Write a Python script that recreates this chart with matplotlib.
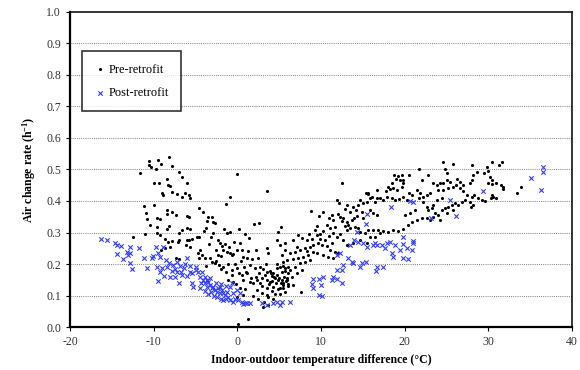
import matplotlib
matplotlib.use('Agg')
import matplotlib.pyplot as plt
import numpy as np

plt.rcParams['font.family'] = ['Liberation Serif', 'DejaVu Serif']
plt.rcParams['mathtext.default'] = 'regular'
plt.rcParams['axes.unicode_minus'] = False

# pre-retrofit points (temp. difference in C, air change rate in 1/h), read strip by strip
pre_left = [
    (-10.52, 0.528), (-10.56, 0.514), (-10.32, 0.509), (-9.76, 0.501), (-9.44, 0.530), (-9.16, 0.517),
    (-8.13, 0.541), (-7.85, 0.511), (-11.67, 0.488), (-6.93, 0.491), (-6.57, 0.475), (-6.06, 0.458),
    (-9.96, 0.458), (-9.36, 0.458), (-8.45, 0.469), (-8.29, 0.451), (-8.05, 0.449), (-9.04, 0.426),
    (-8.92, 0.419), (-7.85, 0.430), (-7.17, 0.421), (-6.65, 0.414), (-6.26, 0.424), (-5.66, 0.409),
    (-5.78, 0.419), (-9.92, 0.387), (-11.16, 0.384), (-10.92, 0.363), (-8.45, 0.372), (-7.77, 0.366),
    (-8.37, 0.359), (-7.33, 0.356), (-10.76, 0.344), (-9.56, 0.347), (-9.24, 0.342), (-6.06, 0.352),
    (-5.74, 0.350), (-10.44, 0.324), (-9.64, 0.316), (-8.45, 0.310), (-8.17, 0.321), (-6.93, 0.299),
    (-6.61, 0.308), (-5.98, 0.315), (-5.66, 0.310), (-12.51, 0.287), (-11.00, 0.294), (-9.64, 0.297),
    (-9.24, 0.292), (-8.61, 0.279), (-8.33, 0.269), (-7.85, 0.273), (-7.13, 0.270), (-7.01, 0.276),
    (-6.06, 0.276), (-5.78, 0.276), (-5.46, 0.280), (-4.86, 0.287), (-5.66, 0.255), (-6.14, 0.260),
    (-8.05, 0.253), (-8.65, 0.250), (-9.16, 0.244), (-7.33, 0.218), (-6.93, 0.216), (-4.66, 0.234),
    (-4.58, 0.218),
]
pre_mid = [
    (0.00, 0.485), (3.58, 0.432), (-0.88, 0.414), (-1.36, 0.391), (-4.54, 0.377), (-4.06, 0.366),
    (-3.47, 0.350), (-3.07, 0.348), (-2.87, 0.334), (-3.67, 0.338), (-2.67, 0.329), (1.99, 0.326),
    (2.63, 0.331), (-4.00, 0.306), (-1.55, 0.310), (-1.28, 0.299), (-0.88, 0.303), (0.24, 0.310),
    (0.92, 0.295), (1.43, 0.281), (5.18, 0.316), (4.90, 0.303), (-4.54, 0.287), (-3.19, 0.287),
    (-2.27, 0.276), (-2.07, 0.266), (-1.87, 0.257), (-1.67, 0.244), (-1.28, 0.239), (-0.88, 0.234),
    (-0.48, 0.232), (-0.68, 0.229), (-0.08, 0.244), (0.32, 0.266), (3.58, 0.250), (3.70, 0.236),
    (4.78, 0.276), (5.10, 0.260), (5.70, 0.268), (0.72, 0.223), (1.11, 0.218), (1.71, 0.215),
    (2.51, 0.218), (-4.46, 0.244), (-3.87, 0.218), (-3.07, 0.207), (-2.67, 0.202), (-2.15, 0.197),
    (-1.67, 0.192), (-1.08, 0.200), (-0.68, 0.181), (-0.08, 0.186), (0.24, 0.170), (0.52, 0.165),
    (1.04, 0.176), (1.51, 0.197), (2.11, 0.186), (2.71, 0.192), (3.11, 0.183), (3.50, 0.176),
    (3.90, 0.179), (4.30, 0.172), (4.70, 0.186), (5.30, 0.176), (5.70, 0.179), (6.09, 0.192),
    (4.10, 0.162), (4.50, 0.155), (4.90, 0.149), (3.90, 0.144), (4.30, 0.128), (3.50, 0.123),
    (1.51, 0.144), (1.91, 0.139), (2.31, 0.149), (2.71, 0.139), (0.72, 0.149), (-0.48, 0.144),
    (-1.08, 0.149), (0.32, 0.123), (2.31, 0.117), (2.91, 0.107), (3.50, 0.102), (5.10, 0.123),
    (5.50, 0.139), (5.90, 0.149), (3.11, 0.065), (3.70, 0.070), (1.31, 0.024), (0.04, 0.008),
    (0.72, 0.102), (-0.08, 0.096),
    # the dense knot around 2-6 C
    (2.2, 0.160), (2.6, 0.170), (3.0, 0.155), (3.3, 0.165), (3.6, 0.150), (3.8, 0.135), (4.0, 0.170),
    (4.2, 0.145), (4.4, 0.160), (4.6, 0.140), (4.8, 0.165), (5.0, 0.155), (5.2, 0.140), (5.4, 0.125),
    (5.6, 0.160), (5.8, 0.145), (4.1, 0.115), (4.5, 0.105), (4.9, 0.120), (3.7, 0.095), (4.3, 0.090),
    (5.1, 0.105), (2.9, 0.130), (3.4, 0.200), (4.7, 0.200), (5.5, 0.195), (6.0, 0.170), (1.2, 0.170),
    (1.6, 0.155), (0.8, 0.190), (0.4, 0.210), (-0.3, 0.200), (-0.6, 0.165), (-1.3, 0.175), (-2.0, 0.185),
    (-2.5, 0.210), (-3.3, 0.220), (-3.8, 0.195), (-4.2, 0.230), (-0.2, 0.135), (0.9, 0.120), (1.9, 0.100),
    (2.5, 0.090), (3.2, 0.080), (5.7, 0.110), (6.1, 0.130),
    (-3.4, 0.265), (-2.6, 0.245), (-2.3, 0.230), (-1.5, 0.265), (-1.0, 0.255), (-0.4, 0.270),
    (-2.9, 0.300), (-3.8, 0.315), (-1.9, 0.225), (0.6, 0.245), (1.3, 0.240), (2.2, 0.245),
]
pre_rise = [
    (12.47, 0.458), (8.80, 0.368), (9.80, 0.352), (10.20, 0.366), (11.87, 0.403), (12.19, 0.393),
    (12.87, 0.374), (13.07, 0.387), (13.47, 0.366), (13.86, 0.380), (14.46, 0.387), (14.66, 0.403),
    (15.06, 0.393), (15.38, 0.426), (15.66, 0.422), (15.86, 0.408), (15.54, 0.398), (16.06, 0.414),
    (16.45, 0.398), (16.65, 0.408), (14.86, 0.366), (14.26, 0.352), (15.06, 0.345), (15.86, 0.371),
    (16.25, 0.363), (16.65, 0.355), (11.27, 0.356), (11.47, 0.340), (12.27, 0.348), (12.47, 0.338),
    (12.67, 0.345), (13.07, 0.334), (13.27, 0.324), (13.66, 0.340), (13.07, 0.308), (13.47, 0.313),
    (14.06, 0.319), (14.46, 0.313), (14.66, 0.303), (15.26, 0.297), (15.66, 0.308), (15.86, 0.287),
    (16.25, 0.308), (6.69, 0.276), (7.29, 0.292), (7.69, 0.281), (8.29, 0.276), (8.60, 0.295),
    (9.28, 0.308), (9.48, 0.292), (9.88, 0.295), (10.28, 0.306), (10.68, 0.324), (11.08, 0.313),
    (11.47, 0.297), (11.87, 0.287), (12.27, 0.295), (12.67, 0.276), (10.48, 0.276), (9.68, 0.266),
    (10.08, 0.260), (10.68, 0.257), (11.27, 0.266), (9.08, 0.260), (8.68, 0.255), (8.09, 0.250),
    (7.49, 0.244), (6.89, 0.239), (6.29, 0.234), (5.70, 0.244), (5.30, 0.229), (9.08, 0.239),
    (9.48, 0.234), (8.49, 0.229), (7.89, 0.223), (7.29, 0.218), (6.69, 0.215), (5.90, 0.213),
    (5.50, 0.207), (5.10, 0.192), (5.70, 0.186), (6.29, 0.181), (6.89, 0.192), (7.49, 0.202),
    (8.09, 0.207), (8.68, 0.213), (7.69, 0.181), (7.09, 0.170), (6.49, 0.160), (5.90, 0.155),
    (5.30, 0.149), (5.50, 0.133), (6.09, 0.137), (6.69, 0.133), (7.57, 0.110), (11.08, 0.244),
    (11.67, 0.239), (10.28, 0.229), (10.88, 0.223), (11.47, 0.218), (12.07, 0.234), (13.07, 0.260),
    (13.78, 0.266), (14.66, 0.276), (15.46, 0.266), (16.45, 0.287), (16.85, 0.308), (15.66, 0.424),
    (16.65, 0.435),
    (8.3, 0.240), (9.9, 0.280), (10.9, 0.290), (11.7, 0.318), (12.9, 0.322), (13.9, 0.345),
    (14.2, 0.372), (12.0, 0.360), (10.9, 0.345), (8.9, 0.280), (7.1, 0.255), (9.5, 0.320),
]
pre_upper = [
    (24.54, 0.525), (25.82, 0.516), (21.75, 0.502), (18.72, 0.483), (19.24, 0.479), (19.64, 0.483),
    (18.96, 0.469), (19.44, 0.467), (19.76, 0.467), (19.84, 0.456), (19.64, 0.445), (20.56, 0.483),
    (18.44, 0.456), (18.05, 0.445), (18.25, 0.437), (18.64, 0.440), (19.04, 0.435), (17.77, 0.433),
    (17.05, 0.408), (17.45, 0.403), (17.85, 0.414), (18.44, 0.408), (18.84, 0.403), (19.36, 0.405),
    (19.84, 0.414), (20.24, 0.403), (20.56, 0.426), (20.84, 0.419), (21.43, 0.435), (21.83, 0.426),
    (21.75, 0.408), (22.23, 0.414), (22.63, 0.419), (23.03, 0.424), (22.03, 0.467), (22.83, 0.483),
    (23.43, 0.456), (23.82, 0.451), (24.22, 0.458), (24.62, 0.456), (25.02, 0.467), (25.42, 0.461),
    (26.21, 0.469), (26.61, 0.461), (27.01, 0.451), (25.82, 0.445), (25.22, 0.440), (24.62, 0.435),
    (24.02, 0.435), (25.10, 0.488), (24.82, 0.500), (26.14, 0.451), (26.61, 0.440), (27.01, 0.433),
    (27.41, 0.419), (22.23, 0.398), (22.63, 0.382), (22.83, 0.371), (23.22, 0.377), (23.62, 0.363),
    (24.02, 0.356), (24.42, 0.371), (24.82, 0.377), (25.22, 0.382), (25.62, 0.387), (26.02, 0.393),
    (26.41, 0.387), (26.81, 0.398), (27.21, 0.403), (25.82, 0.371), (25.02, 0.363), (24.22, 0.340),
    (23.43, 0.348), (23.03, 0.340), (22.63, 0.345), (22.03, 0.345), (21.43, 0.340), (20.84, 0.334),
    (20.44, 0.324), (19.84, 0.310), (19.24, 0.305), (18.64, 0.308), (18.05, 0.303), (17.45, 0.305),
    (17.05, 0.297), (21.23, 0.371), (20.64, 0.361), (20.04, 0.356), (23.43, 0.387), (23.82, 0.403),
    (24.42, 0.408),
]
pre_right = [
    (28.00, 0.514), (28.60, 0.493), (29.48, 0.488), (29.80, 0.509), (30.47, 0.523), (31.31, 0.514),
    (31.59, 0.525), (29.99, 0.496), (30.20, 0.477), (30.39, 0.467), (29.99, 0.456), (30.39, 0.454),
    (30.91, 0.458), (31.47, 0.451), (31.71, 0.443), (31.79, 0.437), (28.20, 0.483), (28.00, 0.467),
    (27.81, 0.456), (28.28, 0.419), (28.00, 0.414), (27.81, 0.398), (28.80, 0.408), (29.20, 0.403),
    (29.60, 0.401), (30.39, 0.419), (30.59, 0.414), (30.91, 0.408), (30.27, 0.408), (33.38, 0.426),
    (33.86, 0.445), (28.12, 0.387), (27.88, 0.380),
]

# post-retrofit points
post_left = [
    (-16.33, 0.279), (-15.54, 0.276), (-14.62, 0.266), (-14.42, 0.260), (-13.90, 0.258), (-14.42, 0.231),
    (-13.23, 0.239), (-13.11, 0.229), (-12.83, 0.234), (-12.83, 0.255), (-11.71, 0.252), (-13.63, 0.215),
    (-12.83, 0.204), (-12.63, 0.183), (-11.16, 0.218), (-10.76, 0.188), (-10.24, 0.218), (-10.04, 0.225),
    (-9.72, 0.255), (-9.44, 0.234), (-9.24, 0.221), (-8.92, 0.253), (-9.64, 0.192), (-9.24, 0.176),
    (-8.53, 0.213), (-8.13, 0.202), (-7.65, 0.197), (-8.73, 0.162), (-8.05, 0.160), (-7.45, 0.158),
    (-6.93, 0.139), (-9.44, 0.147), (-7.25, 0.207), (-6.85, 0.194), (-6.37, 0.186), (-5.98, 0.218),
    (-5.66, 0.194), (-5.46, 0.172), (-5.46, 0.141), (-5.26, 0.128), (-4.94, 0.192), (-4.66, 0.176),
    (-5.66, 0.176), (-6.06, 0.162), (-6.77, 0.176), (-7.17, 0.176), (-7.85, 0.178), (-8.37, 0.192),
    (-9.04, 0.187),
]
post_mid = [
    (-4.46, 0.160), (-4.06, 0.149), (-3.87, 0.139), (-3.67, 0.128), (-3.47, 0.144), (-3.27, 0.133),
    (-3.07, 0.123), (-2.87, 0.128), (-2.67, 0.117), (-2.47, 0.112), (-2.27, 0.123), (-2.07, 0.107),
    (-1.87, 0.117), (-1.67, 0.107), (-1.47, 0.102), (-1.28, 0.112), (-1.08, 0.096), (-0.88, 0.128),
    (-0.68, 0.139), (-0.48, 0.107), (-0.08, 0.117), (0.32, 0.107), (0.52, 0.080), (0.72, 0.073),
    (0.92, 0.077), (1.11, 0.075), (1.51, 0.075), (2.91, 0.075), (3.50, 0.070), (4.30, 0.075),
    (4.70, 0.080), (5.10, 0.070), (5.30, 0.080), (-4.46, 0.123), (-4.26, 0.176), (-3.27, 0.155),
    (-2.07, 0.128), (-3.87, 0.160),
    (-3.9, 0.115), (-3.5, 0.105), (-3.1, 0.110), (-2.8, 0.100), (-2.4, 0.095), (-2.0, 0.090),
    (-1.7, 0.085), (-1.3, 0.090), (-0.9, 0.085), (-0.5, 0.080), (-3.6, 0.150), (-2.6, 0.140),
    (-1.9, 0.135), (-1.4, 0.130), (-0.3, 0.090), (0.1, 0.085), (-4.4, 0.140), (-5.0, 0.180),
    (-6.2, 0.200), (-6.6, 0.165), (-7.5, 0.185),
]
post_rise = [
    (15.46, 0.359), (15.38, 0.327), (14.26, 0.303), (13.94, 0.276), (14.46, 0.271), (13.47, 0.260),
    (15.06, 0.266), (15.54, 0.255), (16.25, 0.260), (16.45, 0.268), (16.73, 0.260), (11.87, 0.229),
    (12.27, 0.236), (13.27, 0.218), (13.66, 0.207), (13.86, 0.202), (12.67, 0.197), (12.47, 0.181),
    (11.87, 0.181), (11.47, 0.160), (11.87, 0.151), (12.47, 0.139), (11.27, 0.149), (10.28, 0.160),
    (9.80, 0.151), (9.08, 0.151), (8.88, 0.137), (9.96, 0.133), (9.08, 0.123), (9.80, 0.102),
    (10.08, 0.098), (14.86, 0.202), (15.38, 0.207), (14.66, 0.192), (16.65, 0.192), (16.57, 0.179),
    (6.29, 0.080),
]
post_right = [
    (20.64, 0.401), (21.03, 0.398), (25.42, 0.403), (18.33, 0.380), (26.14, 0.352), (19.84, 0.285),
    (19.84, 0.264), (18.25, 0.271), (18.84, 0.260), (17.25, 0.260), (17.85, 0.266), (20.95, 0.274),
    (21.03, 0.266), (20.84, 0.244), (20.24, 0.250), (19.44, 0.244), (18.44, 0.234), (18.64, 0.221),
    (19.84, 0.218), (20.44, 0.215), (17.45, 0.192), (17.65, 0.250), (23.10, 0.346),
    (29.32, 0.433), (35.10, 0.474), (36.49, 0.509), (36.57, 0.493), (36.25, 0.435),
]

x_ticks = [-20, -10, 0, 10, 20, 30, 40]
y_ticks = [0.0, 0.1, 0.2, 0.3, 0.4, 0.5, 0.6, 0.7, 0.8, 0.9, 1.0]

pre = np.array(pre_left + pre_mid + pre_rise + pre_upper + pre_right)
post = np.array(post_left + post_mid + post_rise + post_right)

fig = plt.figure(figsize=(5.8, 3.7), dpi=100)
ax = fig.add_axes([0.1207, 0.1162, 0.8655, 0.8514])

ax.scatter(pre[:, 0], pre[:, 1], s=5, c='black', marker='o', linewidths=0,
           label='Pre-retrofit', zorder=3)
ax.scatter(post[:, 0], post[:, 1], s=10, c='#2f3cff', marker='x', linewidths=0.8,
           label='Post-retrofit', zorder=4)

ax.set_xlim(-20, 40)
ax.set_ylim(0, 1.0)
ax.set_xticks(x_ticks)
ax.set_yticks(y_ticks)
ax.set_yticklabels([f'{v:.1f}' for v in y_ticks])
ax.tick_params(labelsize=8.5, labelcolor='#333333', length=3, width=0.8, direction='out')

for v in y_ticks[1:-1]:
    ax.axhline(v, color='#808080', lw=0.7, ls=(0, (1.0, 1.2)), zorder=1)

for side in ['left', 'bottom']:
    ax.spines[side].set_linewidth(1.6)
for side in ['top', 'right']:
    ax.spines[side].set_linewidth(1.1)

ax.set_xlabel('Indoor-outdoor temperature difference (°C)', fontsize=8.5, fontweight='bold', labelpad=4)
ax.set_ylabel('Air change rate (h$^{-1}$)', fontsize=8.5, fontweight='bold', labelpad=6)

leg = ax.legend(loc='upper left', bbox_to_anchor=(0.024, 0.876), borderaxespad=0,
                fontsize=9, frameon=True, fancybox=False, edgecolor='black',
                borderpad=1.0, labelspacing=0.9, handlelength=0.8, handletextpad=0.3,
                markerscale=1.0)
leg.get_frame().set_linewidth(1.2)

fig.savefig('out.png', dpi=100)
